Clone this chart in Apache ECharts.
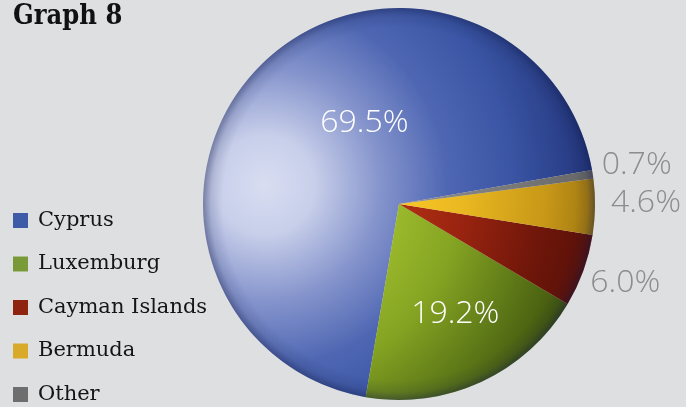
<!DOCTYPE html>
<html>
<head>
<meta charset="utf-8">
<style>
  html, body { margin: 0; padding: 0; background: #dedfe1; }
  #chart { width: 686px; height: 407px; }
</style>
<script src="https://cdn.jsdelivr.net/npm/echarts@6/dist/echarts.min.js"></script>
</head>
<body>
<div id="chart"></div>
<script>
// Shares by country (percent)
const countries = ['Cyprus', 'Luxemburg', 'Cayman Islands', 'Bermuda', 'Other'];
const shares = [69.5, 19.2, 6.0, 4.6, 0.7];
const legendColors = ['#3e5ba8', '#7a9a3a', '#8e2410', '#d9a92a', '#6e6e6e'];

// Shading ramps (light -> dark) for each slice
const ramps = [
  [[0, '#d8ddf1'], [0.15, '#c8cfea'], [0.35, '#8594cc'], [0.55, '#4f67b3'], [0.75, '#3a55a4'], [1, '#22347a']],
  [[0, '#b8d040'], [0.4, '#9cba2c'], [0.6, '#84a322'], [0.8, '#5f7a18'], [1, '#3d500c']],
  [[0, '#c83a18'], [0.4, '#b03012'], [0.6, '#9a2410'], [0.85, '#6e160a'], [1, '#5a1008']],
  [[0, '#ffd838'], [0.4, '#f8c828'], [0.6, '#eab820'], [0.85, '#c89818'], [1, '#a07810']],
  [[0, '#a0a0a0'], [0.5, '#8a8a8a'], [1, '#666666']]
];

const PIE_CX = 399, PIE_CY = 204, PIE_R = 196;
const LIGHT_X = 265, LIGHT_Y = 185, LIGHT_R = 330;

function shade(stops) {
  return {
    type: 'radial', x: LIGHT_X, y: LIGHT_Y, r: LIGHT_R, global: true,
    colorStops: stops.map(s => ({ offset: s[0], color: s[1] }))
  };
}

const pctFont = { fontFamily: 'Open Sans', fontWeight: 300, fontSize: 32 };
const insideLabel = Object.assign({
  show: true, position: 'inside', color: '#ffffff',
  formatter: p => p.value.toFixed(1) + '%'
}, pctFont);
const outsideLabel = Object.assign({
  show: true, position: 'outside', color: '#8c8c8c',
  formatter: p => p.value.toFixed(1) + '%'
}, pctFont);

// label nudges (dx, dy) per slice
const labelShift = [[37, -10], [14, 18], [2, 12], [11, -4], [4, -9]];

const data = countries.map((name, i) => ({
  name,
  value: shares[i],
  itemStyle: { color: shade(ramps[i]) },
  label: i < 2 ? insideLabel : outsideLabel,
  labelLine: { show: false, length: 0, length2: 0 }
}));

const chart = echarts.init(document.getElementById('chart'), null, { renderer: 'canvas' });
chart.setOption({
  backgroundColor: '#dedfe1',
  animation: false,
  title: {
    text: 'Graph 8', left: 13, top: 3, padding: 0,
    textStyle: { fontFamily: "'DejaVu Serif Condensed', 'DejaVu Serif'", fontWeight: 'bold', fontSize: 27, color: '#111111' }
  },
  legend: {
    orient: 'vertical', left: 13, top: 210, padding: 0,
    icon: 'rect', itemWidth: 15, itemHeight: 15, itemGap: 22.5,
    textStyle: { fontFamily: 'DejaVu Serif', fontSize: 21, color: '#151515', padding: [0, 0, 0, 5] },
    data: countries.map((name, i) => ({ name, itemStyle: { color: legendColors[i] } }))
  },
  series: [{
    type: 'pie',
    center: [PIE_CX, PIE_CY],
    radius: PIE_R,
    startAngle: 10,
    clockwise: false,
    avoidLabelOverlap: false,
    silent: true,
    data,
    labelLayout: params => ({ dx: labelShift[params.dataIndex][0], dy: labelShift[params.dataIndex][1] })
  }],
  graphic: [{
    type: 'circle', silent: true, z: 100,
    shape: { cx: PIE_CX, cy: PIE_CY, r: PIE_R },
    style: {
      fill: {
        type: 'radial', x: 0.5, y: 0.5, r: 0.5,
        colorStops: [
          { offset: 0, color: 'rgba(15,25,70,0)' },
          { offset: 0.9, color: 'rgba(15,25,70,0)' },
          { offset: 0.96, color: 'rgba(15,25,70,0.12)' },
          { offset: 1, color: 'rgba(15,25,70,0.4)' }
        ]
      }
    }
  }]
});
</script>
</body>
</html>
